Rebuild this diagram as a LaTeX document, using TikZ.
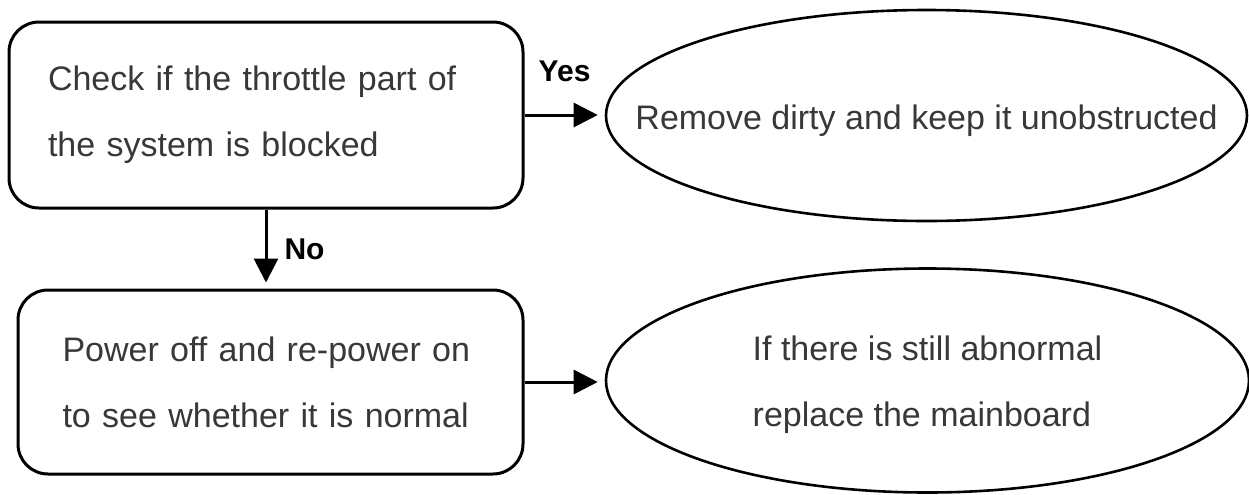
\documentclass[tikz,border=0pt]{standalone}
\usepackage{fontspec}
\setmainfont{Liberation Sans}
\usetikzlibrary{arrows.meta,shapes.geometric}
\tikzset{
	box/.style={draw, line width=1.5pt, rounded corners=15pt, inner ysep=0pt, align=left, text=black!78, font=\fontsize{17pt}{33pt}\selectfont},
	oval/.style={draw, ellipse, line width=1.3pt, inner ysep=0pt, inner xsep=-40pt, align=left, text=black!78, font=\fontsize{17pt}{33pt}\selectfont},
	flow/.style={line width=1.5pt, -{Triangle[length=12pt,width=12pt]}},
	answer/.style={inner sep=0pt, font=\fontsize{15pt}{18pt}\selectfont\bfseries}
}

\begin{document}
\begin{tikzpicture}[x=0.5pt, y=-0.5pt]
			%%%%% START %%%%%
			\useasboundingbox (0, 0) rectangle (1249, 494);
			
			\node[box, text width=218pt, inner xsep=19.5pt, minimum height=93pt] (check) at (266, 115)
				{Check if the throttle part of\\the system is blocked};
			\node[box, text width=208pt, inner xsep=22.25pt, minimum height=92pt] (power) at (270.5, 382)
				{Power off and re-power on\\to see whether it is normal};
			
			\node[oval, minimum width=320.5pt, minimum height=105.5pt, text height=18pt, text depth=3.6pt] (clean) at (926.5, 115.5)
				{Remove dirty and keep it unobstructed};
			\node[oval, minimum width=321.5pt, minimum height=112pt, text height=50pt, text depth=3.6pt] (replace) at (927.5, 380.5)
				{If there is still abnormal\\replace the mainboard};
			
			\draw[flow, shorten >=3.5pt] (check.east) -- (check.east -| clean.west)
				node[answer, midway, above=16pt] {Yes};
			\draw[flow, shorten >=3pt] (check.south) -- (check.south |- power.north)
				node[answer, midway, right=8.5pt] {No};
			\draw[flow, shorten >=3.5pt] (power.east) -- (power.east -| replace.west);
			
			%%%%% END %%%%%
\end{tikzpicture}
\end{document}
